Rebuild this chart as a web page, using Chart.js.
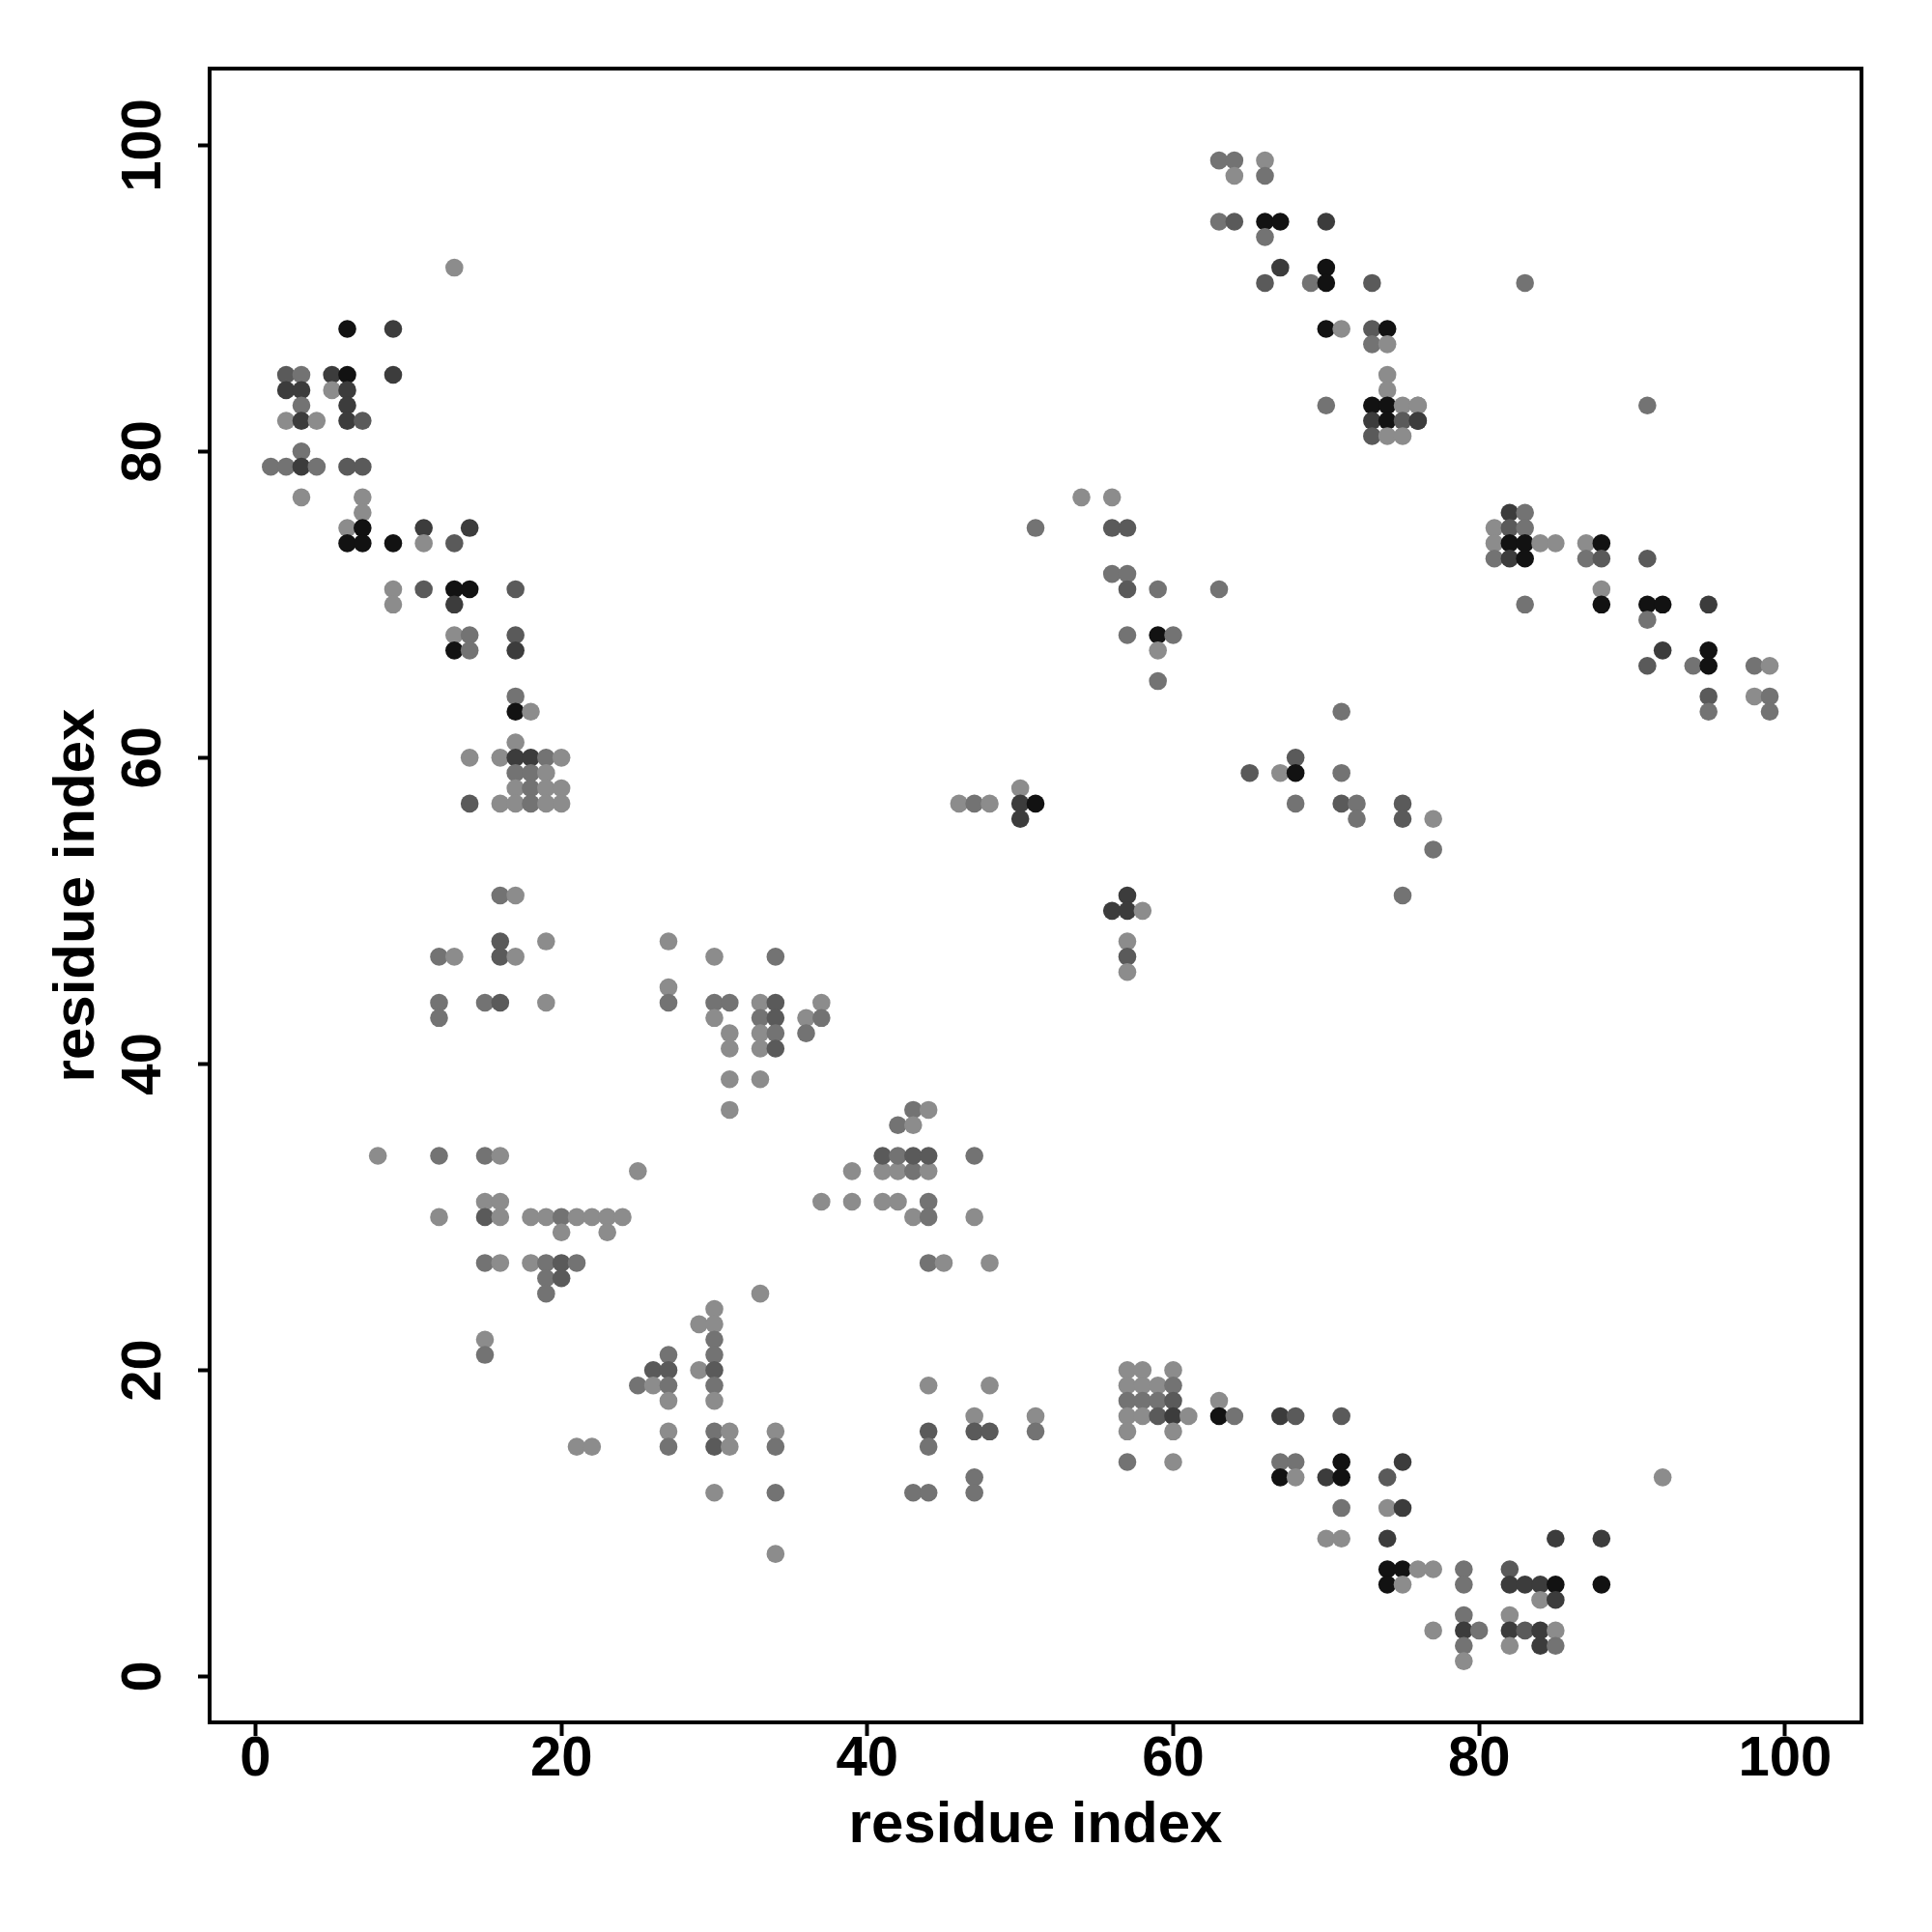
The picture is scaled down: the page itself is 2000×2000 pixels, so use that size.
<!DOCTYPE html>
<html><head><meta charset="utf-8">
<script src="https://cdn.jsdelivr.net/npm/chart.js@4/dist/chart.umd.min.js"></script>
<style>html,body{margin:0;padding:0;background:#fff}#wrap{width:2000px;height:2000px}</style>
</head><body><div id="wrap"><canvas id="c" width="2000" height="2000"></canvas></div>
<script>
// residue i (x), residue j (y), shade level (1 light ... 5 black)
const contactX = [
13,6,9,2,3,5,6,9,2,3,5,6,3,6,2,3,4,6,7,3,1,2,3,4,6,7,3,7,7,6,7,11,14,6,7,9,11,13,
9,11,13,14,17,9,13,13,14,17,13,14,17,17,17,18,17,14,16,17,18,19,20,17,18,19,17,18,19,20,
14,16,17,18,19,20,16,17,16,19,12,13,16,17,12,15,16,19,12,8,12,15,16,25,15,16,
12,15,16,18,19,20,21,22,23,24,20,23,15,16,18,19,20,21,19,20,19,15,15,21,22,
39,41,42,43,44,37,39,41,42,44,43,44,47,44,45,48,33,30,29,30,30,27,30,26,27,29,30,
25,26,27,30,44,48,27,30,47,27,30,31,34,44,47,48,27,30,31,34,44,47,30,34,43,44,47,34,
27,30,34,27,27,30,31,33,34,37,30,33,34,36,37,31,33,34,36,31,33,34,31,33,31,43,44,42,43,
41,42,43,44,47,46,47,48,50,50,51,50,
63,64,66,64,66,63,64,66,67,70,66,67,70,66,69,70,73,70,71,73,74,73,74,74,74,
70,73,74,75,76,73,74,75,76,73,74,75,
54,56,51,56,57,56,57,57,59,63,57,59,60,59,59,
83,91,76,76,82,83,81,82,83,81,82,83,84,85,87,88,81,82,83,87,88,91,88,83,88,91,92,95,91,
92,95,91,94,95,98,99,95,98,99,95,99,
71,68,65,67,68,71,68,71,72,75,72,75,77,77,57,75,56,57,58,57,57,57,
57,58,60,57,58,59,60,57,58,59,60,63,51,57,58,59,60,61,63,64,67,68,71,51,57,60,
57,60,67,68,71,75,67,68,70,71,74,71,74,75,70,71,74,74,75,76,77,79,82,
74,75,79,82,83,84,85,88,84,85,79,82,77,79,80,82,83,84,85,79,82,84,85,79,85,88,92
];
const contactY = [
92,88,88,85,85,85,85,85,84,84,84,84,83,83,82,82,82,82,82,80,79,79,79,79,79,79,77,77,76,75,75,75,75,74,74,74,74,74,
71,71,71,71,71,70,70,68,68,68,67,67,67,64,63,63,61,60,60,60,60,60,60,59,59,59,58,58,58,58,
57,57,57,57,57,57,51,51,48,48,47,47,47,47,44,44,44,44,43,34,34,34,34,33,31,31,
30,30,30,30,30,30,30,30,30,30,29,29,27,27,27,27,27,27,26,26,25,22,21,15,15,
33,33,33,33,33,31,31,31,31,31,30,30,30,27,27,27,25,24,23,23,22,21,21,20,20,20,20,
19,19,19,19,19,19,18,18,17,16,16,16,16,16,16,16,15,15,15,15,15,13,12,12,12,12,12,8,
48,47,47,45,44,44,44,44,44,44,43,43,43,43,43,42,42,42,42,41,41,41,39,39,37,37,37,36,36,
34,34,34,34,34,57,57,57,58,57,57,56,
99,99,99,98,98,95,95,95,95,95,94,92,92,91,91,91,91,88,88,88,88,87,87,85,84,
83,83,83,83,83,82,82,82,82,81,81,81,
77,77,75,75,75,72,72,71,71,71,68,68,68,67,65,
91,83,83,82,76,76,75,75,75,74,74,74,74,74,74,74,73,73,73,73,73,73,71,70,70,70,70,70,69,
67,67,66,66,66,66,66,64,64,64,63,63,
63,60,59,59,59,59,57,57,57,57,56,56,56,54,51,51,50,50,50,48,47,46,
20,20,20,19,19,19,19,18,18,18,18,18,17,17,17,17,17,17,17,17,17,17,17,16,16,16,
14,14,14,14,14,14,13,13,13,13,13,11,11,11,9,9,9,7,7,7,7,7,7,
6,6,6,6,6,6,6,6,5,5,4,4,3,3,3,3,3,3,3,2,2,2,2,1,9,9,13
];
const contactLevel = [
1,5,4,3,2,4,5,4,4,4,1,4,2,4,1,4,1,4,3,2,2,2,4,2,3,3,1,1,1,1,5,4,4,5,5,5,1,3,
1,3,5,5,3,1,4,1,2,3,5,2,4,2,5,1,1,1,1,4,4,2,1,2,2,1,1,2,1,1,
3,1,1,2,1,1,2,1,3,1,2,1,3,1,2,2,3,1,2,1,2,2,1,1,1,1,
1,3,1,1,1,2,1,1,1,1,1,1,2,1,1,2,3,2,2,3,2,1,2,1,1,
1,1,1,2,1,1,1,1,1,2,1,2,1,2,1,1,1,1,1,1,2,2,2,3,3,1,3,
2,1,2,2,1,1,1,1,1,1,2,1,1,3,3,3,2,3,1,2,2,2,1,2,2,2,2,1,
1,1,2,1,2,2,2,1,3,1,1,2,3,1,2,1,1,2,2,1,1,3,1,1,1,2,1,2,1,
3,2,3,3,2,1,2,1,1,4,5,4,
2,2,1,1,2,2,3,5,5,4,2,4,5,3,2,5,3,5,1,3,5,2,1,1,1,
2,5,5,1,1,4,5,3,4,3,1,1,
1,1,2,3,3,2,2,3,2,2,2,5,2,1,2,
2,2,1,4,4,2,1,3,2,1,5,5,1,1,1,5,2,4,5,2,3,3,1,2,5,5,5,4,2,
4,5,3,2,5,2,1,3,1,2,2,2,
2,3,3,1,5,2,2,3,2,3,2,3,1,2,4,2,4,4,1,1,3,1,
1,1,1,1,1,1,2,2,2,2,3,1,1,1,1,3,4,1,5,2,4,3,3,2,1,1,
2,1,2,2,5,4,5,1,4,5,3,2,1,4,1,1,4,5,5,1,1,2,3,
5,1,2,4,4,4,5,5,1,4,2,1,1,4,2,4,3,4,1,2,1,4,2,1,4,4,1
];
const levelColors = ['#8c8c8c', '#737373', '#5a5a5a', '#3c3c3c', '#121212'];
const xTicks = [0, 20, 40, 60, 80, 100];
const yTicks = [0, 20, 40, 60, 80, 100];
const xTitle = 'residue index';
const yTitle = 'residue index';

const points = contactX.map((x, i) => ({x: x, y: contactY[i]}));
const colors = contactLevel.map(l => levelColors[l - 1]);

const FONT = '"Liberation Sans", Arial, Helvetica, sans-serif';

const framePlugin = {
  id: 'frame',
  afterDatasetsDraw(chart) {
    const {ctx, chartArea: a} = chart;
    ctx.save();
    ctx.strokeStyle = '#000';
    ctx.lineWidth = 4;
    ctx.strokeRect(a.left, a.top, a.right - a.left, a.bottom - a.top);
    ctx.restore();
  }
};

new Chart(document.getElementById('c'), {
  type: 'scatter',
  data: {
    datasets: [{
      data: points,
      backgroundColor: colors,
      borderWidth: 0,
      pointRadius: 9.3,
      pointHoverRadius: 9.3,
      pointStyle: 'circle'
    }]
  },
  options: {
    responsive: false,
    animation: false,
    events: [],
    layout: {padding: {top: 71, right: 73, left: 0, bottom: 0}},
    plugins: {legend: {display: false}, tooltip: {enabled: false}},
    scales: {
      x: {
        type: 'linear', min: -3, max: 105,
        afterBuildTicks(s) { s.ticks = xTicks.map(v => ({value: v})); },
        afterFit(s) { s.height = 217; },
        grid: {drawOnChartArea: false, drawTicks: true, tickLength: 14, tickWidth: 4, tickColor: '#000'},
        border: {display: false},
        ticks: {color: '#000', padding: -4, maxRotation: 0, font: {family: FONT, size: 58, weight: 'bold', lineHeight: 1}},
        title: {display: true, text: xTitle, color: '#000', padding: {top: 0, bottom: 80},
                font: {family: FONT, size: 60, weight: 'bold', lineHeight: 1}}
      },
      y: {
        type: 'linear', min: -3, max: 105,
        afterBuildTicks(s) { s.ticks = yTicks.map(v => ({value: v})); },
        afterFit(s) { s.width = 217; },
        grid: {drawOnChartArea: false, drawTicks: true, tickLength: 12, tickWidth: 4, tickColor: '#000'},
        border: {display: false},
        ticks: {color: '#000', padding: 7, minRotation: 90, crossAlign: 'center',
                font: {family: FONT, size: 58, weight: 'bold', lineHeight: 1}},
        title: {display: true, text: yTitle, color: '#000', padding: {top: 50, bottom: 0},
                font: {family: FONT, size: 60, weight: 'bold', lineHeight: 1}}
      }
    }
  },
  plugins: [framePlugin]
});
</script>
</body></html>
